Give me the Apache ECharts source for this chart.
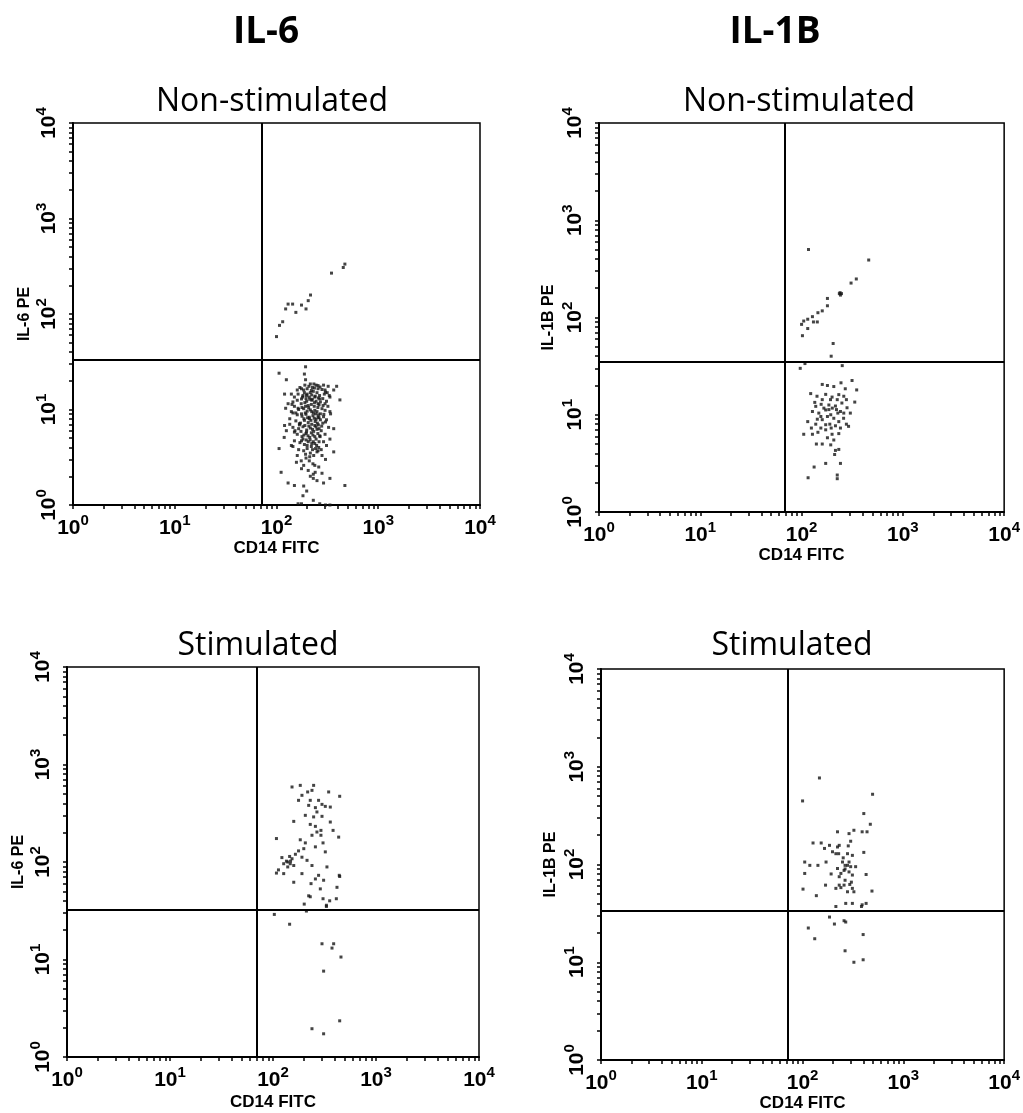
<!DOCTYPE html>
<html>
<head>
<meta charset="utf-8">
<title>IL-6 / IL-1B intracellular staining in CD14+ monocytes</title>
<script src="https://cdn.jsdelivr.net/npm/echarts@6/dist/echarts.min.js"></script>
<style>
  html, body { margin: 0; padding: 0; background: #fff; }
  #chart { width: 1023px; height: 1113px; }
</style>
</head>
<body>
<div id="chart"></div>
<script>
// Axis decades (log scale, 10^0 .. 10^4) and the minor tick positions within each decade
const decadeTicks = [1, 10, 100, 1000, 10000];
const minorTickValues = [
  1, 2, 3, 4, 5, 6, 7, 8, 9,
  10, 20, 30, 40, 50, 60, 70, 80, 90,
  100, 200, 300, 400, 500, 600, 700, 800, 900,
  1000, 2000, 3000, 4000, 5000, 6000, 7000, 8000, 9000,
  10000
];

const columnHeaders = ['IL-6', 'IL-1B'];
const panelTitles = ['Non-stimulated', 'Non-stimulated', 'Stimulated', 'Stimulated'];
const xAxisNames = ['CD14 FITC', 'CD14 FITC', 'CD14 FITC', 'CD14 FITC'];
const yAxisNames = ['IL-6 PE', 'IL-1B PE', 'IL-6 PE', 'IL-1B PE'];

// Quadrant gates [CD14 FITC, cytokine PE]
const quadrantGates = [[72, 33], [68, 35], [70, 32.4], [71, 33.5]];

// IL-6, non-stimulated: events [CD14 FITC, IL-6 PE]
const il6NonStim = [
  [470,333],[453,307],[347,268],[216,158],[205,138],[176,124],[195,113],[144,127],
  [130,127],[155,104],[123,113],[115,83],[107,76],[100,58],
  [193,28],[106,24],[188,23.5],[125,20.5],[193,20.5],[233,18.5],[290,18],[322,17.5],
  [390,17.5],[365,16],[303,15.2],[256,16.5],[176,16.5],[163,14.5],[120,14.5],[140,14.5],
  [197,14],[238,13.5],[266,12.9],[335,13.5],[420,12.6],[176,12.9],[222,12.5],[145,12],
  [256,11.5],[287,11],[193,10.8],[163,10.3],[123,10.3],[238,9.8],[335,9.5],[145,9.2],
  [176,9],[210,8],[256,8.3],[135,8],[303,7.4],[168,7.1],[238,6.8],[120,6.8],
  [365,6.3],[152,6],[197,5.8],[266,5.3],[119,5.1],[335,4.9],[176,4.7],[222,4.4],
  [145,4.1],[106,3.9],[256,3.7],[365,3.6],[193,3.4],[303,3.0],[157,2.8],[238,2.6],
  [176,2.4],[111,2.2],[280,2.15],[230,2.1],[335,1.9],[290,1.7],[470,1.6],[130,1.7],
  [150,1.6],[185,1.58],[182,1.25],[230,1.12],[163,1.03],[176,1.03],[266,1.03],[303,1.0],
  [335,1.0],
  [170,17],[185,16],[200,16.5],[215,15],[230,15.5],[250,15],[265,14],[180,13.5],
  [195,13],[210,13.5],[225,12.8],[245,12.2],[270,12],[160,12.5],[175,11.5],[190,11.8],
  [205,11],[220,11.3],[235,10.8],[255,10.5],[280,10.2],[150,10.8],[165,10],[185,10.2],
  [200,9.6],[215,9.9],[230,9.2],[250,9.5],[270,9],[300,9.8],[140,9.5],[160,8.8],
  [178,8.5],[195,8.9],[210,8.3],[228,8.6],[245,7.9],[262,8.2],[290,8.4],[155,7.6],
  [172,7.2],[188,7.7],[205,7.3],[222,7],[240,7.5],[258,6.9],[285,7.2],[145,6.5],
  [165,6.3],[182,6.6],[198,6.1],[215,6.4],[232,5.9],[250,6.2],[275,6],[160,5.5],
  [178,5.2],[195,5.6],[212,5.1],[228,5.4],[245,4.9],[268,5.2],[150,4.7],[170,4.5],
  [188,4.3],[205,4.6],[220,4.1],[238,4.4],[260,4],[185,3.7],[200,3.9],[215,3.5],
  [232,3.3],[250,3.6],[195,3.1],[210,2.9],[228,2.7],[260,2.5],[280,3.3],[205,2.3],
  [240,2.2],[200,14.5],[222,14.2],[240,13.8],[188,15],[208,17.5],[225,17],[245,18],
  [268,17.2],[300,16],[315,15],[330,14],[310,12.2],[320,10.8],[300,11.5],[340,9],
  [310,7.8],[325,6.5],[300,5.5],[290,4.6],[310,4.2],[130,11.5],[135,7],[125,6],
  [140,4.2],[160,3.3],[175,2.9],[185,2.6],[230,1.9],[250,1.8],[215,2],[198,1.4],
  [182,14],[198,12.2],[212,12.8],[236,11.8],[262,11.2],[178,10.5],[192,9.2],[207,10.4],
  [222,9.5],[242,9],[258,8.8],[186,8],[202,8.2],[218,7.7],[235,8.1],[252,7.2],
  [270,7.8],[168,6.9],[190,6.8],[208,6.7],[226,6.2],[244,6.6],[262,6.3],[174,5.9],
  [186,5.4],[204,5.3],[220,5.7],[238,5.2],[255,5.6],[182,4.9],[196,4.8],[214,4.8],
  [230,4.6],[248,4.2],[200,4.2],[226,3.8],[242,3.9],[212,3.2],[220,15.8],[236,16.8],
  [256,17.8],[280,16.2],[295,14.5],[285,13],[258,13.2],[292,8.9],[278,6.7],[262,4.6],
  [275,3.8],[215,18.5],[190,18],[160,16],[150,13.5],[142,11.3],[155,9.2],[150,5.8],
  [165,3.8]
];

// IL-1B, non-stimulated: events [CD14 FITC, IL-1B PE]
const il1bNonStim = [
  [117,500],[460,390],[347,249],[308,226],[240,180],[236,176],[248,176],[242,170],
  [180,157],[180,132],[160,117],[145,112],[128,102],[131,90],[143,90],[105,92],
  [115,96],[100,85],[102,65],[115,77],[205,54],[196,40],[108,33.6],[97,30],[252,32],
  [315,22.5],[245,21.3],[160,20.5],[180,20],[208,19.5],[270,18.5],[350,18],[123,16.5],
  [142,15.5],[173,16.2],[200,15.2],[225,14.3],[277,14.3],[335,13.5],[135,13.4],[156,12.8],
  [186,12.6],[216,12.3],[250,13.2],[281,11.8],[303,10.4],[128,10.8],[148,10.4],[173,11.2],
  [194,10],[228,10.4],[260,9.2],[115,8.5],[138,8],[160,8.9],[190,8],[216,7.7],
  [277,8],[291,7.6],[125,7.3],[145,6.6],[173,7],[200,6.3],[233,6.4],[105,6.3],
  [128,6.3],[180,5.8],[208,5.5],[140,5],[160,5],[194,4.9],[216,4.3],[233,4.4],
  [212,3.9],[173,3.16],[242,3.16],[133,2.9],[225,2.4],[225,2.2],[116,2.25],
  [166,11.7],[186,11.3],[201,11.7],[221,11.3],[242,10.8],[180,9.6],[155,9.6],[208,9.2],
  [233,8.5],[143,9.0],[173,7.9],[196,7.3],[242,7.3],[155,7.3],[261,10.4],[138,12.2],
  [193,14.3],[233,16.1],[261,15.5],[160,14.3]
];

// IL-6, stimulated: events [CD14 FITC, IL-6 PE]
const il6Stim = [
  [153,588],[184,611],[248,611],[239,543],[217,523],[347,523],[444,472],[191,483],
  [177,429],[230,429],[277,429],[299,390],[222,381],[258,361],[360,366],[322,372],
  [267,326],[206,301],[248,290],[299,294],[159,261],[360,257],[230,243],[258,232],
  [292,211],[383,211],[267,203],[239,188],[108,174],[292,188],[434,180],[184,169],
  [206,157],[306,157],[258,143],[199,137],[177,130],[322,127],[165,120],[145,114],
  [153,108],[139,100],[127,96],[147,96],[122,111],[214,104],[239,92],[334,89],
  [191,112],[108,77],[113,83],[127,76],[191,76],[277,73],[258,67],[159,62],
  [310,65],[444,71],[440,73],[234,60],[418,55],[288,53],[222,45],[230,44],
  [306,42],[412,42],[355,40],[201,37],[330,36],[211,31.4],[330,35],[103,29],
  [135,102],[148,102],[159,92],[139,89],
  [145,23],[299,14.5],[388,14.5],[374,13.1],[457,10.6],[310,7.6],[444,2.35],[239,1.95],
  [310,1.73]
];

// IL-1B, stimulated: events [CD14 FITC, IL-1B PE]
const il1bStim = [
  [147,768],[495,523],[100,447],[405,332],[470,258],[390,216],[436,216],[323,224],
  [289,207],[222,216],[300,173],[231,157],[222,151],[127,166],[153,166],[165,146],
  [185,157],[279,129],[214,129],[228,129],[405,133],[312,124],[105,106],[118,98],
  [142,98],[171,106],[249,106],[264,98],[279,98],[300,95],[336,95],[222,91],
  [258,87],[312,78],[427,79],[105,81],[240,81],[289,84],[169,61.5],[231,61.5],
  [258,61.5],[294,62.5],[312,57],[323,52.6],[214,57],[279,52.6],[488,53.5],[101,56],
  [137,48],[268,40],[312,40],[390,38.7],[427,40],[384,37.2],[214,37.2],
  [185,29],[207,24.6],[258,26.6],[268,25.8],[114,22.4],[399,19.2],[132,17.4],[264,13.1],
  [323,10],[399,10.6],
  [253,117],[289,106],[264,90],[231,75],[264,69],[305,66],[240,58],[192,80],
  [198,135],[284,155]
];

const panelData = [il6NonStim, il1bNonStim, il6Stim, il1bStim];

// Plot frames in pixels: [left, top, width, height]
const frames = [
  [73, 123, 407, 382],
  [599, 123, 410, 389],
  [67, 667, 412, 390],
  [601, 669, 411, 393]
];
const xNameGaps = [30, 32, 37, 35];
const yNameGaps = [40, 42, 40, 42];

const tickFont = 'Liberation Sans';
const titleFont = 'Open Sans';

function powerLabel(v) {
  const e = Math.round(Math.log10(v));
  return '{b|10}{s|' + e + '}';
}

const labelRich = {
  b: { fontSize: 21, fontWeight: 'bold', fontFamily: tickFont, color: '#000' },
  s: { fontSize: 15, fontWeight: 'bold', fontFamily: tickFont, color: '#000', padding: [0, 0, 16, 0] }
};

const grids = frames.map(f => ({
  left: f[0], top: f[1], width: f[2], height: f[3],
  show: true, borderColor: '#000', borderWidth: 1.5, backgroundColor: 'transparent'
}));

const xAxes = frames.map((f, i) => ({
  type: 'log', logBase: 10, min: 1, max: 10000, gridIndex: i,
  name: xAxisNames[i], nameLocation: 'middle', nameGap: xNameGaps[i],
  nameTextStyle: { fontFamily: tickFont, fontWeight: 'bold', fontSize: 17, color: '#000' },
  axisLine: { show: true, lineStyle: { color: '#000', width: 2 } },
  axisTick: { show: true, inside: false, length: 4, customValues: minorTickValues,
              lineStyle: { color: '#000', width: 1.5 } },
  axisLabel: { show: true, margin: 8, customValues: decadeTicks, formatter: powerLabel,
               fontSize: 21, fontWeight: 'bold', fontFamily: tickFont, color: '#000',
               rich: labelRich, showMinLabel: true, showMaxLabel: true, hideOverlap: false },
  splitLine: { show: false }
}));

const yAxes = frames.map((f, i) => ({
  type: 'log', logBase: 10, min: 1, max: 10000, gridIndex: i,
  name: yAxisNames[i], nameLocation: 'middle', nameGap: yNameGaps[i],
  nameTextStyle: { fontFamily: tickFont, fontWeight: 'bold', fontSize: 16, color: '#000' },
  axisLine: { show: true, lineStyle: { color: '#000', width: 2 } },
  axisTick: { show: true, inside: false, length: 4, customValues: minorTickValues,
              lineStyle: { color: '#000', width: 1.5 } },
  axisLabel: { show: true, margin: 8, rotate: 90, customValues: decadeTicks, formatter: powerLabel,
               fontSize: 21, fontWeight: 'bold', fontFamily: tickFont, color: '#000',
               rich: labelRich, showMinLabel: true, showMaxLabel: true, hideOverlap: false },
  splitLine: { show: false }
}));

const series = panelData.map((pts, i) => ({
  type: 'scatter', xAxisIndex: i, yAxisIndex: i,
  data: pts, symbol: 'rect', symbolSize: 3,
  itemStyle: { color: '#151515' },
  silent: true,
  markLine: {
    silent: true, symbol: 'none', animation: false,
    label: { show: false },
    lineStyle: { color: '#000', width: 2, type: 'solid' },
    data: [{ xAxis: quadrantGates[i][0] }, { yAxis: quadrantGates[i][1] }]
  }
}));

const titles = [
  { text: columnHeaders[0], left: 266, top: 14 },
  { text: columnHeaders[1], left: 775, top: 14 }
].map(t => Object.assign(t, {
  textAlign: 'center', padding: 0,
  textStyle: { fontFamily: titleFont, fontWeight: 'bold', fontSize: 37, color: '#000' }
})).concat([
  { text: panelTitles[0], left: 272, top: 86 },
  { text: panelTitles[1], left: 799, top: 86 },
  { text: panelTitles[2], left: 258, top: 630 },
  { text: panelTitles[3], left: 792, top: 630 }
].map(t => Object.assign(t, {
  textAlign: 'center', padding: 0,
  textStyle: { fontFamily: titleFont, fontWeight: 'normal', fontSize: 32, color: '#000' }
})));

const chart = echarts.init(document.getElementById('chart'), null, { renderer: 'canvas' });
chart.setOption({
  backgroundColor: '#fff',
  animation: false,
  title: titles,
  grid: grids,
  xAxis: xAxes,
  yAxis: yAxes,
  series: series
});
</script>
</body>
</html>
